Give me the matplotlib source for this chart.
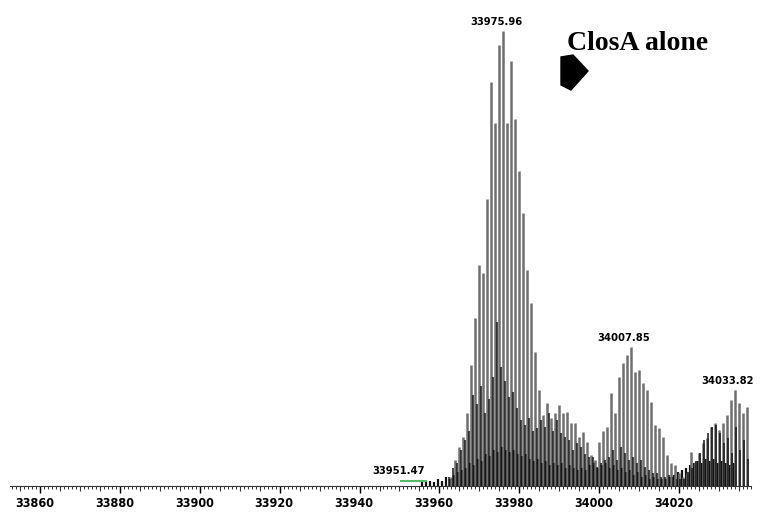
import numpy as np
import matplotlib.pyplot as plt
from matplotlib.ticker import MultipleLocator
from matplotlib.transforms import ScaledTranslation
from matplotlib.patches import Polygon

# spectrum data (relative intensity, %), one line per Da
gray_start = 33963
gray_heights = [2, 5.7, 8.5, 10.7, 16, 26.5, 36.8, 48.5, 46.7, 63,
                88.6, 79.6, 96.7, 99.8, 79.6, 93.2, 80.5, 69, 59.9, 47.4,
                40.1, 29.4, 21, 15.6, 18.2, 14.9, 16, 17.8, 16, 16.2,
                13.8, 13.8, 10.7, 11.8, 9.6, 6.8, 5.7, 9.6, 12, 13,
                20.4, 16, 24, 27, 28.7, 30.5, 25, 25.4, 22.6, 21,
                18.4, 13.4, 12.7, 10.7, 6.8, 5, 4.6, 2.8, 2, 2.8,
                7.5, 5.3, 7.2, 9.4, 10.5, 13, 13.8, 12.3, 13.8, 15.6,
                18.9, 21, 18.2, 16, 17.3]

dark_start = 33962
dark_heights = [2, 4, 5, 8, 10, 12, 20, 18, 22, 16,
                19, 24, 36, 26, 23, 19.5, 20.6, 17, 14.5, 13.4,
                15, 12, 12.7, 14.5, 13, 16, 12, 14.5, 11.6, 10.7,
                10, 8, 9.4, 8.6, 7, 6.4, 6.4, 4.2, 5, 5.7,
                6.4, 8, 5.7, 8.6, 7.2, 5.7, 6.4, 5, 5.7, 4.2,
                3.5, 2.8, 2.8, 2, 2, 2.5, 2, 1.5, 1.5, 1.5,
                3, 4, 5.5, 7.2, 10, 11.6, 13, 13.4, 11.6, 9.4,
                10.5, 7.2, 13, 8, 10, 6]

low_start = 33955
low_heights = [0.8, 1, 1.2, 0.8, 1.5, 1.2, 2, 1.5, 2.5, 3,
               3.5, 4, 5, 4.5, 6, 5.5, 7, 6.5, 8, 7.5,
               8.5, 8, 7.5, 8, 7, 6.5, 7, 6, 5.5, 6, 5,
               5.5, 4.5, 5, 4.5, 5, 4, 4.5, 4, 3.5, 4,
               3.5, 4.5, 5, 4, 4.5, 5, 4, 4.5, 3.5, 4,
               3, 3.5, 2.5, 3, 2, 2.5, 1.5, 2, 1.5, 1.5,
               1.5, 2, 2.5, 3, 3.5, 4, 4.5, 5, 5.5, 5,
               6, 5.5, 6, 5, 5.5, 5, 4.5, 5]

green_mass = [33950.4, 33956.7]
green_int = [1, 1]

peak_labels = [33951.47, 33975.96, 34007.85, 34033.82]
peak_label_int = [1.2, 99.8, 30.5, 21]

gray_mass = gray_start + np.arange(len(gray_heights)) - 0.04
dark_mass = dark_start + np.arange(len(dark_heights)) + 0.35
low_mass = low_start + np.arange(len(low_heights)) + 0.7

fig = plt.figure(figsize=(7.64, 5.14), dpi=100)
W, H = 764, 514
ax = fig.add_axes([10 / W, 28 / H, 741 / W, 456 / H])

ax.vlines(low_mass, 0, low_heights, colors='#111111', linewidth=1.6)
ax.vlines(gray_mass, 0, gray_heights, colors='#6f6f6f', linewidth=1.8)
ax.vlines(dark_mass, 0, dark_heights, colors='#151515', linewidth=1.1)
ax.plot(green_mass, green_int, color='#55bb66', lw=1.5)

for m, h in zip(peak_labels, peak_label_int):
    ax.annotate(f'{m:.2f}', xy=(m, h), xytext=(-5, 3), textcoords='offset points',
                ha='center', va='bottom', fontsize=8, fontweight='bold',
                fontstretch='condensed', annotation_clip=False)

ax.set_xlim(33852.5, 34038)
ax.set_ylim(0, 100)
for s in ['top', 'right', 'left']:
    ax.spines[s].set_visible(False)
ax.spines['bottom'].set_color('#333333')
ax.set_yticks([])

ax.set_xticks(np.arange(33860, 34040, 20))
ax.xaxis.set_minor_locator(MultipleLocator(1))
ax.tick_params(axis='x', which='major', length=5, width=1, pad=3,
               labelsize=9, colors='black')
ax.tick_params(axis='x', which='minor', length=2.2, width=0.7, colors='#333333')
for lbl in ax.get_xticklabels():
    lbl.set_fontweight('bold')
    lbl.set_fontstretch('condensed')
    lbl.set_transform(lbl.get_transform() + ScaledTranslation(-4 / 72, 0, fig.dpi_scale_trans))

sec = ax.secondary_xaxis('bottom')
sec.set_xticks(np.arange(33855, 34040, 5))
sec.tick_params(length=3.5, width=0.8, labelbottom=False, colors='#333333')
sec.spines['bottom'].set_visible(False)

# title and arrow
fig.text(567 / W, 1 - 50 / H, 'ClosA alone', family='Liberation Serif',
         fontweight='bold', fontsize=20, ha='left', va='baseline')
arrow = [(561, 57), (573, 55), (588, 71), (571, 90), (561, 85)]
fig.patches.append(Polygon([(x / W, 1 - y / H) for x, y in arrow], closed=True,
                           transform=fig.transFigure, color='black'))

fig.savefig('out.png', dpi=100)
